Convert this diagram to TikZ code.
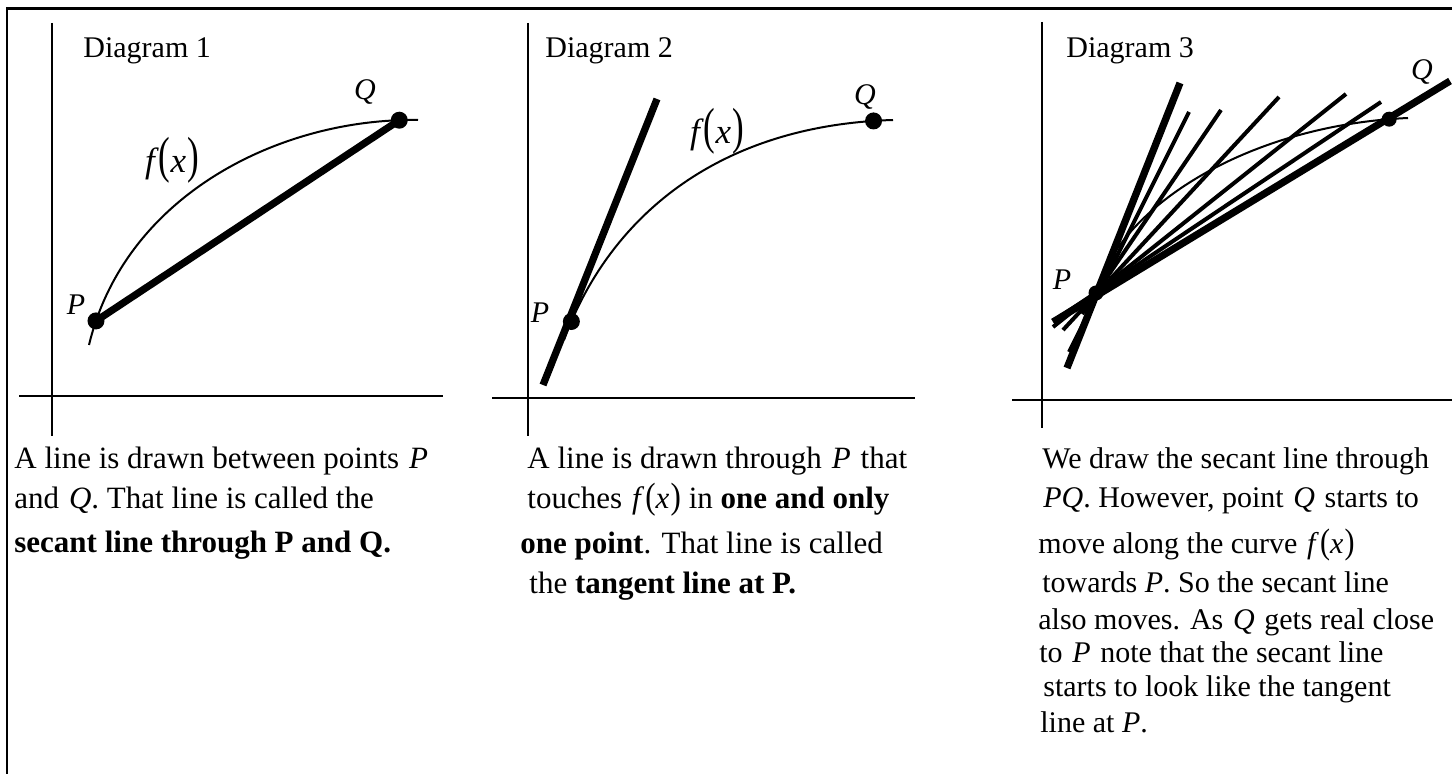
\documentclass[tikz,border=0pt]{standalone}
\usepackage{fontspec}
\setmainfont{Liberation Serif}
\usepackage{graphicx}
\usetikzlibrary{calc}
\newcommand{\fxt}{\textit{f}\kern0.6pt\scalebox{1}[1.18]{(}\textit{x}\kern0.6pt\scalebox{1}[1.18]{)}}
\newcommand{\fxg}{\textit{f}\scalebox{1}[1.45]{(}\textit{x}\kern0.6pt\scalebox{1}[1.45]{)}}
\newcommand{\gap}{\hspace{0.32em}}
\begin{document}
\begin{tikzpicture}[x=0.5pt,y=-0.5pt,
  frameline/.style={line width=1.3pt},
  axis/.style={line width=1.2pt},
  curve/.style={line width=1pt},
  thickline/.style={line width=3.6pt},
  secline/.style={line width=2pt},
  dot/.style={circle,fill,inner sep=0pt,minimum size=8.5pt},
  lbl/.style={font=\fontsize{15}{18}\selectfont\itshape, inner sep=0pt},
  flbl/.style={font=\fontsize{17.5}{20}\selectfont, inner sep=0pt},
  ttl/.style={font=\fontsize{15}{18}\selectfont, anchor=base west, inner sep=0pt},
  txt/.style={font=\fontsize{15.5}{18}\selectfont, anchor=base west, inner sep=0pt},
  txtc/.style={font=\fontsize{15}{18}\selectfont, anchor=base west, inner sep=0pt},
]
\useasboundingbox (0,0) rectangle (1452,774);
% frame
\coordinate (fTL) at (7,8.5);
\coordinate (fTR) at (1452,8.5);
\coordinate (fBL) at (7,774);
\draw[frameline] (fTR) -- (fTL) -- (fBL);

% ---------------- Diagram 1
\coordinate (v1t) at (52,23); \coordinate (v1b) at (52,436);
\coordinate (h1l) at (19,396); \coordinate (h1r) at (443,396);
\draw[axis] (v1t) -- (v1b);
\draw[axis] (h1l) -- (h1r);
\node[ttl] (d1) at (83,58) {Diagram 1};
\draw[curve] (89,345) .. controls (125,195) and (280,118) .. (418,120)
  coordinate[pos=0.055] (P1) coordinate[pos=0.955] (Q1);
\draw[thickline] (P1) -- (Q1);
\node[dot] (p1d) at (P1) {};
\node[dot] (q1d) at (Q1) {};
\node[lbl] (p1l) at (76,305) {P};
\node[lbl] (q1l) at (365,92) {Q};
\node[flbl] (f1l) at (172,160) {\fxg};

% ---------------- Diagram 2
\coordinate (v2t) at (528,23); \coordinate (v2b) at (528,436);
\coordinate (h2l) at (492,398); \coordinate (h2r) at (915,398);
\draw[axis] (v2t) -- (v2b);
\draw[axis] (h2l) -- (h2r);
\node[ttl] (d2) at (545,58) {Diagram 2};
\draw[curve] (564,340) .. controls (610,215) and (720,125) .. (893,120)
  coordinate[pos=0.05] (P2) coordinate[pos=0.962] (Q2);
\coordinate (t2a) at (543,385);
\coordinate (t2b) at (657,99);
\draw[thickline] (t2a) -- (t2b);
\node[dot] (p2d) at (P2) {};
\node[dot] (q2d) at (Q2) {};
\node[lbl] (p2l) at (540,313) {P};
\node[lbl] (q2l) at (865,97) {Q};
\node[flbl] (f2l) at (717,131) {\fxg};

% ---------------- Diagram 3
\coordinate (v3t) at (1042,22); \coordinate (v3b) at (1042,428);
\coordinate (h3l) at (1012,400); \coordinate (h3r) at (1452,400);
\draw[axis] (v3t) -- (v3b);
\draw[axis] (h3l) -- (h3r);
\node[ttl] (d3) at (1066,58) {Diagram 3};
\coordinate (P3) at (1096,293);
\draw[curve] (P3) .. controls (1120,205) and (1250,125) .. (1408,118)
  coordinate[pos=0.96] (Q3);
% lines through P
\coordinate (l1a) at (1067,368); \coordinate (l1b) at (1180,83);
\coordinate (l2a) at (1069,352); \coordinate (l2b) at (1189,112);
\coordinate (l3a) at (1082,314); \coordinate (l3b) at (1221,110);
\coordinate (l4a) at (1063,330); \coordinate (l4b) at (1279,97);
\coordinate (l5a) at (1053,327); \coordinate (l5b) at (1346,94);
\coordinate (l6a) at (1055,320); \coordinate (l6b) at (1381,102);
\coordinate (l7a) at (1053,322); \coordinate (l7b) at (1450,81);
\draw[thickline] (l1a) -- (l1b);
\draw[secline] (l2a) -- (l2b);
\draw[secline] (l3a) -- (l3b);
\draw[secline] (l4a) -- (l4b);
\draw[secline] (l5a) -- (l5b);
\draw[secline] (l6a) -- (l6b);
\draw[thickline] (l7a) -- (l7b);
\node[dot,minimum size=7.5pt] (p3d) at (P3) {};
\node[dot,minimum size=7.5pt] (q3d) at (Q3) {};
\node[lbl] (p3l) at (1062,280) {P};
\node[lbl] (q3l) at (1422,72) {Q};

% ---------------- Texts
\node[txt] (t11) at (14,469) {A line is drawn between points\gap\textit{P}};
\node[txt] (t12) at (14,509) {and\gap\textit{Q}. That line is called the};
\node[txt] (t13) at (14,553) {\textbf{secant line through P and Q.}};

\node[txt] (t21) at (527,469) {A line is drawn through\gap\textit{P}\gap that};
\node[txt] (t22) at (527,509) {touches\gap\fxt\ in \textbf{one and only}};
\node[txt] (t23) at (520,554) {\textbf{one point}. That line is called};
\node[txt] (t24) at (529,594) {the \textbf{tangent line at P.}};

\node[txtc] (t31) at (1042,469) {We draw the secant line through};
\node[txtc] (t32) at (1043,508) {\textit{PQ}. However, point\gap\textit{Q}\gap starts to};
\node[txtc] (t33) at (1038,554) {move along the curve\gap\fxt};
\node[txtc] (t34) at (1042,593) {towards \textit{P}. So the secant line};
\node[txtc] (t35) at (1038,630) {also moves. As\gap\textit{Q}\gap gets real close};
\node[txtc] (t36) at (1039,663) {to\gap\textit{P}\gap note that the secant line};
\node[txtc] (t37) at (1043,697) {starts to look like the tangent};
\node[txtc] (t38) at (1040,733) {line at \textit{P}.};
\end{tikzpicture}
\end{document}
